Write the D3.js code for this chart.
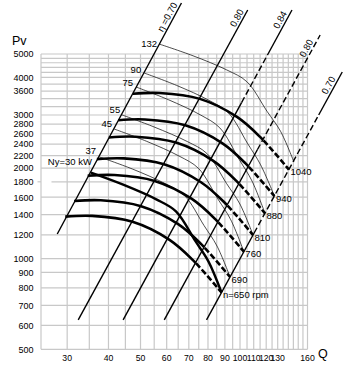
<!DOCTYPE html>
<html><head><meta charset="utf-8">
<script src="https://cdn.jsdelivr.net/npm/d3@7"></script>
<style>body{margin:0;background:#fff}svg{display:block;font-family:"Liberation Sans",Arial,sans-serif}</style>
</head><body><svg id="c" width="350" height="373"></svg>
<script>
// ---- data ----
const qTicks = [30,40,50,60,70,80,90,100,110,120,130,160];
const pTicks = [500,600,700,800,900,1000,1200,1400,1600,1800,2000,2200,2400,2600,2800,3000,3600,4000,5000];
const qGrid = d3.range(25,161,5);
const pGrid = [500,600,700,800,900,1000,1200,1400,1600,1800,2000,2200,2400,2600,2800,3000,3200,3400,3600,3800,4000,4200,4400,4600,4800,5000];

// efficiency lines: [Q,P] bottom and top points
const etaNames = ["η =0.70","0.80","0.84","0.80","0.70"];
const etaLines = [
  [[28.0,1208],[66.5,8131]],
  [[32.4,626],[105.5,7604]],
  [[44.3,626],[143.6,7604]],
  [[59.0,626],[174.7,5992]],
  [[79.2,626],[203.8,4212]]
];
// pressure range in which each efficiency line is dashed
const etaDashP = [null,null,[3300,5000],[2300,5992],[1217,3000]];

// fan speed curves (rpm)
const speeds = [1040,940,880,810,760,690,650];
const speedQ = [
  [47.4,57.1,75.6,97.9,115.0,140.6],
  [42.8,51.6,68.3,88.5,103.9,127.1],
  [40.1,48.3,64.0,82.8,97.3,119.0],
  [36.9,44.5,58.9,76.2,89.6,109.5],
  [34.6,41.7,55.2,71.5,84.0,102.7],
  [31.5,37.9,50.2,65.0,76.3,93.3],
  [29.6,35.7,47.3,61.2,71.9,87.9]
];
const speedP = [
  [3530,3550,3394,2957,2537,1975],
  [2884,2900,2773,2416,2072,1613],
  [2527,2542,2430,2117,1816,1414],
  [2141,2153,2059,1794,1539,1198],
  [1885,1896,1812,1579,1355,1055],
  [1554,1563,1494,1302,1117,869],
  [1379,1387,1326,1155,991,772]
];

// motor power lines (kW)
const powers = [132,90,75,55,45,37,30];
const powerQ = [
  [56.9,72.1,91.1,104.9,120.7,132.6,145.6],
  [51.3,64.3,80.5,92.2,105.5,115.4,127.1],
  [48.5,60.7,76.0,86.9,99.4,108.7,119.0],
  [43.7,55.0,69.2,79.4,91.1,99.9,109.5],
  [41.6,52.2,65.4,74.9,85.7,93.8,102.7],
  [37.6,47.2,59.2,67.9,77.8,85.2,93.3],
  [35.4,44.5,55.8,64.0,73.3,80.3,87.9]
];
const powerP = [
  [5500,4915,4297,3870,3086,2649,2094],
  [4171,3762,3357,3050,2409,2050,1613],
  [3716,3373,3000,2718,2136,1811,1414],
  [3009,2737,2450,2235,1775,1519,1198],
  [2696,2453,2192,1994,1579,1345,1055],
  [2176,1986,1778,1621,1289,1101,869],
  [1930,1757,1574,1436,1143,978,772]
];

// ---- chart ----
const svg = d3.select("#c");
const X0 = 41, X1 = 307.5, Y0 = 349.3, Y1 = 54;
const x = d3.scaleLog().domain([25,160]).range([X0,X1]);
// log pressure axis (top section compressed as in the original drawing)
const yl = d3.scaleLinear().domain([Math.log10(500),Math.log10(4000),Math.log10(5000)]).range([Y0,77.4,Y1]);
const y = p => yl(Math.log10(p));

const grid = svg.append("g").attr("stroke","#c8c8c8").attr("stroke-width",1.2);
qGrid.forEach(q=>grid.append("line").attr("x1",x(q)).attr("x2",x(q)).attr("y1",Y1).attr("y2",Y0));
pGrid.forEach(p=>grid.append("line").attr("x1",p===1800?51.5:X0).attr("x2",X1).attr("y1",y(p)).attr("y2",y(p)));
grid.append("line").attr("x1",37.5).attr("x2",41).attr("y1",y(1800)).attr("y2",y(1800));

const smooth = d3.line().x(d=>x(d[0])).y(d=>y(d[1])).curve(d3.curveCatmullRom);

// point on an efficiency line (pixel space) at pressure P
const onLine = (l,P)=>{
  const ax=x(l[0][0]), ay=y(l[0][1]), bx=x(l[1][0]), by=y(l[1][1]), py=y(P);
  return [ax+(bx-ax)*(py-ay)/(by-ay), py];
};
// clip areas either side of the right-hand 0.80 line
const r80 = etaLines[3];
const ax=x(r80[0][0]), ay=y(r80[0][1]), bx=x(r80[1][0]), by=y(r80[1][1]);
const xAtY = yy => ax+(bx-ax)*(yy-ay)/(by-ay);
const defs = svg.append("defs");
defs.append("clipPath").attr("id","right").append("path")
  .attr("d",`M${xAtY(400)},400L${xAtY(-20)},-20L400,-20L400,400Z`);
defs.append("clipPath").attr("id","left").append("path")
  .attr("d",`M${xAtY(400)},400L${xAtY(-20)},-20L-10,-20L-10,400Z`);

// efficiency lines
const seg = (a,b,dash)=>svg.append("path").attr("d",`M${a[0]},${a[1]}L${b[0]},${b[1]}`)
  .attr("fill","none").attr("stroke","#000").attr("stroke-width",1.4).attr("stroke-dasharray",dash?"6,3":null);
etaLines.forEach((l,i)=>{
  const A=[x(l[0][0]),y(l[0][1])], B=[x(l[1][0]),y(l[1][1])];
  const r = etaDashP[i];
  if(!r){ seg(A,B,false); return; }
  const a=onLine(l,r[0]), b=onLine(l,r[1]);
  seg(A,a,false); seg(a,b,true);
  if(b[1]>B[1]+0.5) seg(b,B,false);
});
const etaAlong = [-3,-3,-5,-9,-9];
etaLines.forEach((l,i)=>{
  const A=[x(l[0][0]),y(l[0][1])], B=[x(l[1][0]),y(l[1][1])];
  const ang = Math.atan2(B[1]-A[1], B[0]-A[0])*180/Math.PI;
  svg.append("text").attr("transform",`translate(${B[0]},${B[1]}) rotate(${ang})`)
    .attr("x",etaAlong[i]).attr("y",-2.5).attr("text-anchor","end").attr("font-size",9.5).text(etaNames[i]);
});

// power lines
powers.forEach((pw,i)=>{
  const pts = powerQ[i].map((q,j)=>[q,powerP[i][j]]);
  svg.append("path").attr("d",smooth(pts)).attr("fill","none").attr("stroke","#000")
    .attr("stroke-width",i===6?2.4:0.7);
});
// speed curves
speeds.forEach((n,i)=>{
  const pts = speedQ[i].map((q,j)=>[q,speedP[i][j]]);
  svg.append("path").attr("d",smooth(pts)).attr("fill","none").attr("stroke","#000")
    .attr("stroke-width",2.6).attr("clip-path","url(#left)");
  svg.append("path").attr("d",smooth(pts)).attr("fill","none").attr("stroke","#000")
    .attr("stroke-width",2.6).attr("stroke-dasharray","6,2.5").attr("clip-path","url(#right)");
  const e = pts[pts.length-1];
  svg.append("text").attr("x",x(e[0])+1.5).attr("y",y(e[1])+5.5).attr("font-size",9.5)
    .text(i===6?"n=650 rpm":n);
});
// power labels
const powLabOff = [[-2,3],[-3,0],[-3,-1],[-1,-2],[-2,-2],[-3.5,-3],[1,-8]];
powers.forEach((pw,i)=>{
  svg.append("text").attr("x",x(powerQ[i][0])+powLabOff[i][0]).attr("y",y(powerP[i][0])+powLabOff[i][1])
    .attr("text-anchor","end").attr("font-size",9.5)
    .text(i===6?"Ny=30 kW":pw);
});

// axis labels
const ax2 = svg.append("g").attr("fill","#000");
pTicks.forEach(p=>ax2.append("text").attr("x",33.5).attr("y",y(p)+3.3).attr("text-anchor","end").attr("font-size",9).text(p));
qTicks.forEach(q=>ax2.append("text").attr("x",x(q)).attr("y",361).attr("text-anchor","middle").attr("font-size",8.7).text(q));
svg.append("text").attr("x",12).attr("y",45).attr("font-size",12.5).text("Pv");
svg.append("text").attr("x",318).attr("y",358).attr("font-size",12.5).text("Q");
</script></body></html>
